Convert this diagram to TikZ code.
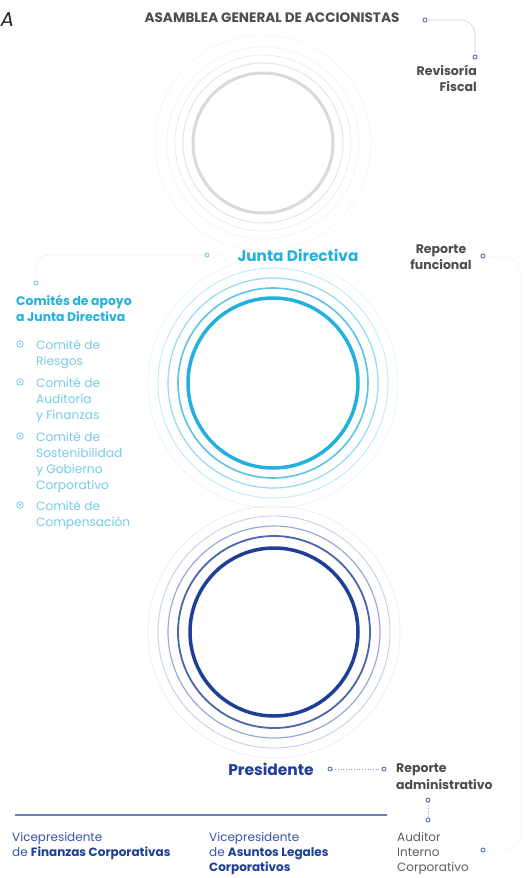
\documentclass[tikz,border=0pt]{standalone}
\usepackage{fontspec}
\setmainfont{Poppins}
\definecolor{dgray}{HTML}{4D4D4D}
\definecolor{cyanh}{HTML}{22B0DE}
\definecolor{cyanl}{HTML}{79C9E8}
\definecolor{navy}{HTML}{1D3F97}
\definecolor{navyt}{HTML}{3A55A6}
\definecolor{dotc}{HTML}{5D72B3}
\definecolor{lline}{HTML}{C9CED9}
\begin{document}
\begin{tikzpicture}[x=1pt,y=-1pt,
  ring/.style={draw,circle,inner sep=0pt},
  dotn/.style={circle,draw=dotc,fill=white,line width=0.9pt,inner sep=0pt,minimum size=4pt},
  bul/.style={circle,draw=cyanl,line width=0.8pt,inner sep=0pt,minimum size=6.5pt,
     path picture={\fill[cyanl] (path picture bounding box.center) circle (1.2pt);}},
  conn/.style={draw=lline,line width=0.6pt},
  dconn/.style={draw=lline,line width=0.7pt,dotted},
  head/.style={font=\bfseries\fontsize{12.5}{16}\selectfont,text=dgray,inner sep=0pt},
  item/.style={font=\fontsize{12.2}{16}\selectfont,text=cyanl,align=left,anchor=north west,inner sep=0pt},
  vp/.style={font=\fontsize{12}{15.2}\selectfont,text=navyt,align=left,anchor=north west,inner sep=0pt}]
\useasboundingbox[fill=white] (0,0) rectangle (523,878);

% gray circle
\node[ring,draw=black!5,line width=0.5pt,minimum size=216pt] (g5) at (263,143) {};
\node[ring,draw=black!5,line width=0.6pt,minimum size=192pt] (g4) at (263,143) {};
\node[ring,draw=black!7,line width=0.8pt,minimum size=176pt] (g3) at (263,143) {};
\node[ring,draw=black!10,line width=1pt,minimum size=160pt] (g2) at (263,143) {};
\node[ring,draw=black!15,line width=3pt,minimum size=140pt] (g1) at (263,143) {};

% cyan circle
\node[ring,draw=cyanh!12,line width=0.7pt,minimum size=250pt] (c5) at (273,383) {};
\node[ring,draw=cyanh!28,line width=0.9pt,minimum size=230pt] (c4) at (273,383) {};
\node[ring,draw=cyanh!48,line width=1.2pt,minimum size=210pt] (c3) at (273,383) {};
\node[ring,draw=cyanh!75,line width=1.6pt,minimum size=190pt] (c2) at (273,383) {};
\node[ring,draw=cyanh,line width=3.5pt,minimum size=170pt] (c1) at (273,383) {};

% navy circle
\node[ring,draw=navy!10,line width=0.7pt,minimum size=252pt] (n5) at (274,632) {};
\node[ring,draw=navy!25,line width=0.9pt,minimum size=232pt] (n4) at (274,632) {};
\node[ring,draw=navy!45,line width=1.2pt,minimum size=212pt] (n3) at (274,632) {};
\node[ring,draw=navy!80,line width=1.8pt,minimum size=192pt] (n2) at (274,632) {};
\node[ring,draw=navy,line width=3.5pt,minimum size=168pt] (n1) at (274,632) {};

% top-left letter
\node[font=\itshape\fontsize{20}{20}\selectfont,text=black!85,anchor=west,inner sep=0pt] (la) at (0.5,20) {A};

% titles
\node[head,font=\bfseries\fontsize{13.6}{16}\selectfont] (asam) at (272,18) {ASAMBLEA GENERAL DE ACCIONISTAS};
\node[head,align=right,anchor=north east] (rev) at (477,65) {Revisoría\\Fiscal};
\node[font=\bfseries\fontsize{15.3}{18}\selectfont,text=cyanh,inner sep=0pt] (junta) at (298,255) {Junta Directiva};
\node[head,align=center,anchor=north] (rfun) at (441,245) {Reporte\\funcional};
\node[font=\bfseries\fontsize{12.4}{15.5}\selectfont,text=cyanh,align=left,anchor=north west,inner sep=0pt] (comites) at (16,295) {Comités de apoyo\\a Junta Directiva};

% committee items
\node[item] (i1) at (36,340) {Comité de\\Riesgos};
\node[item] (i2) at (36,378) {Comité de\\Auditoría\\y Finanzas};
\node[item] (i3) at (36,432) {Comité de\\Sostenibilidad\\y Gobierno\\Corporativo};
\node[item] (i4) at (36,501) {Comité de\\Compensación};
\node[bul] (b1) at (20,344) {};
\node[bul] (b2) at (20,382) {};
\node[bul] (b3) at (20,436) {};
\node[bul] (b4) at (20,505) {};

% presidente and reports
\node[font=\bfseries\fontsize{15.5}{18}\selectfont,text=navy,inner sep=0pt] (pres) at (271,769) {Presidente};
\node[head,font=\bfseries\fontsize{12.5}{17}\selectfont,align=left,anchor=north west] (radm) at (396,764) {Reporte\\administrativo};
\node[font=\fontsize{12}{15.2}\selectfont,text=dgray!90,align=left,anchor=north west,inner sep=0pt] (aud) at (397,832) {Auditor\\Interno\\Corporativo};

% vice presidents
\node[vp] (vp1) at (12,832) {Vicepresidente\\de \textbf{\color{navy}Finanzas Corporativas}};
\node[vp] (vp2) at (209,832) {Vicepresidente\\de \textbf{\color{navy}Asuntos Legales}\\\textbf{\color{navy}Corporativos}};

% separator line
\coordinate (sepl) at (15,815);
\coordinate (sepr) at (387,815);
\draw[draw=navyt!75,line width=1.3pt] (sepl) -- (sepr);

% dots
\node[dotn] (d1) at (425,20) {};
\node[dotn] (d2) at (475,57) {};
\node[dotn,draw=cyanl] (d3) at (207,255) {};
\node[dotn,draw=cyanl] (d4) at (36,283) {};
\node[dotn] (d5) at (483,256) {};
\node[dotn] (d6) at (330,769) {};
\node[dotn] (d7) at (384,769) {};
\node[dotn] (d8) at (428,800) {};
\node[dotn] (d9) at (428,820) {};
\node[dotn] (d10) at (483,850) {};

% connectors
\draw[conn] (d1) -- (461,20) to[out=0,in=90] (475,34) -- (d2);
\draw[dconn] (d3) -- (49,255) to[out=180,in=90] (36,268) -- (d4);
\draw[dconn,draw=lline!60] (d5) -- (505,257) to[out=0,in=90] (521,275) -- (521,833) to[out=-90,in=0] (505,850) -- (d10);
\draw[dconn,draw=dotc!70] (d6) -- (d7);
\draw[dconn,draw=dotc!70] (d8) -- (d9);
\end{tikzpicture}
\end{document}
